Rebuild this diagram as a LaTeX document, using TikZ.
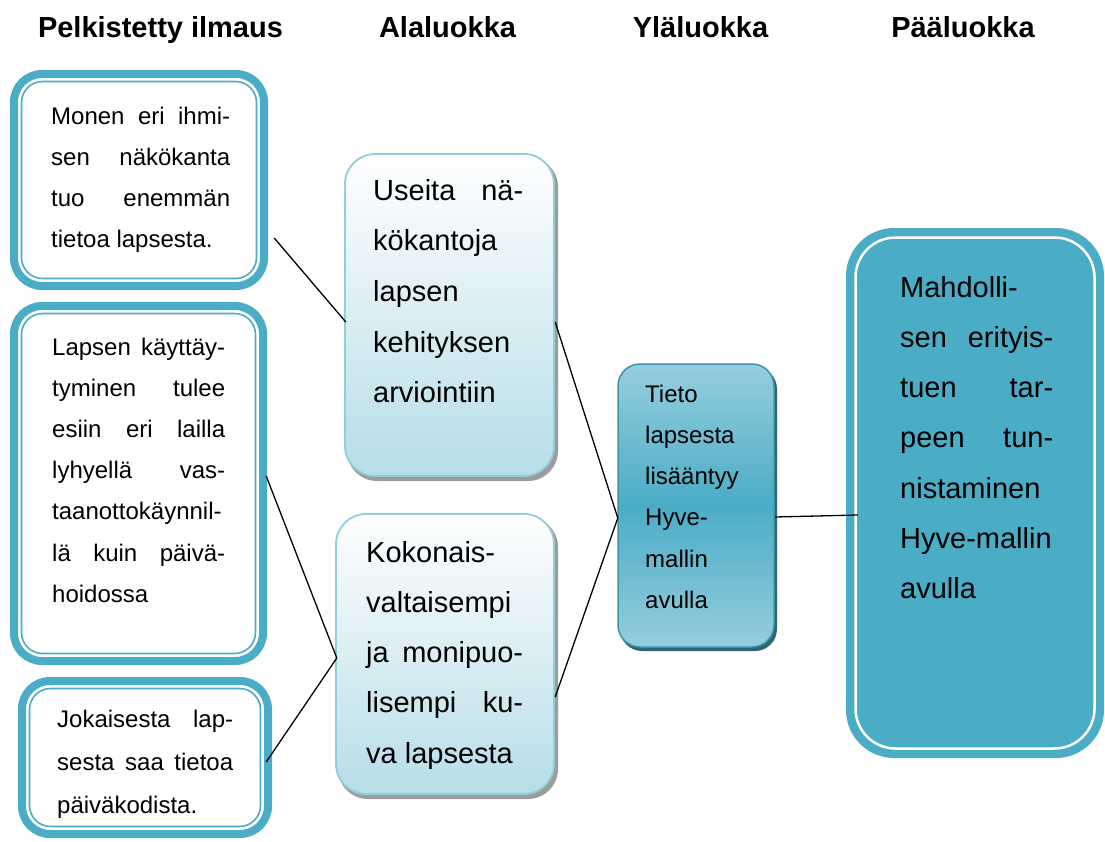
\documentclass[tikz,border=0pt]{standalone}
\usepackage{fontspec}
\setmainfont{Liberation Sans}
\definecolor{teal5}{HTML}{4BACC6}
\definecolor{lblue}{HTML}{B6DDE8}
\definecolor{lborder}{HTML}{92CDDC}
\definecolor{ylatop}{HTML}{96CEDE}
\definecolor{shadowA}{HTML}{9C9C9C}
\definecolor{shadowB}{HTML}{2E6476}
\newcommand\jus[1]{\makebox[\linewidth][s]{#1}}
\newcommand\leftbox[5]{%
  \node[inner sep=0pt, minimum width={#4-#2}, minimum height={#5-#3}] (#1) at ({(#2+#4)/2},{(#3+#5)/2}) {};
  \draw[teal5, line width=8pt, fill=white, rounded corners=28pt] ({#2+4},{#3+4}) rectangle ({#4-4},{#5-4});
  \draw[teal5, line width=1.6pt, rounded corners=21pt] ({#2+11.5},{#3+11.5}) rectangle ({#4-11.5},{#5-11.5});
}
\newcommand\midbox[5]{%
  \node[inner sep=0pt, minimum width={#4-#2}, minimum height={#5-#3}] (#1) at ({(#2+#4)/2},{(#3+#5)/2}) {};
  \fill[shadowA, rounded corners=30pt] ({#2+3},{#3+4}) rectangle ({#4+3},{#5+4});
  \shadedraw[top color=white, bottom color=lblue, draw=lborder, line width=1.8pt, rounded corners=30pt] ({#2+1},{#3+1}) rectangle ({#4-1},{#5-1});
}
\tikzset{
  conn/.style={draw=black, line width=1.3pt},
  head/.style={font=\bfseries\fontsize{29}{34}\selectfont, anchor=base, inner sep=0pt},
  txt/.style={anchor=base west, inner sep=0pt, align=left}
}
\begin{document}
\begin{tikzpicture}[x=1pt, y=-1pt]
\useasboundingbox (0,0) rectangle (1105,841);
% headers
\node[head] (h1) at (160.5,37.5) {Pelkistetty ilmaus};
\node[head] (h2) at (447.5,37.5) {Alaluokka};
\node[head] (h3) at (700.5,37.5) {Yläluokka};
\node[head] (h4) at (963,37.5) {Pääluokka};
% left boxes
\leftbox{p1}{10}{70}{268}{290}
\leftbox{p2}{10}{302}{267}{665}
\leftbox{p3}{18}{677}{272}{838}
% middle boxes
\midbox{a1}{344}{153}{555}{477}
\midbox{a2}{335}{513}{555}{795}
% upper class box
\node[inner sep=0pt, minimum width=157pt, minimum height=284pt] (y1) at (695.5,505) {};
\fill[shadowB, rounded corners=22pt] (620,367) rectangle (777,651);
\shadedraw[top color=ylatop, bottom color=ylatop, middle color=teal5, draw=teal5!85!black, line width=1.5pt, rounded corners=22pt] (618,364) rectangle (774,647);
% main class box
\node[inner sep=0pt, minimum width=258pt, minimum height=530pt] (r1) at (975,493) {};
\fill[teal5, rounded corners=48pt] (846,228) rectangle (1104,758);
\draw[white, line width=2.5pt, rounded corners=40pt] (855.5,237.5) rectangle (1094.5,748.5);
% texts
\node[txt] (t1) at (51,124) {\parbox[t]{179pt}{\fontsize{24}{41}\selectfont
\jus{Monen eri ihmi-}\\ \jus{sen näkökanta}\\ \jus{tuo enemmän}\\ tietoa lapsesta.}};
\node[txt] (t2) at (52,355) {\parbox[t]{173pt}{\fontsize{24}{41.2}\selectfont
\jus{Lapsen käyttäy-}\\ \jus{tyminen tulee}\\ \jus{esiin eri lailla}\\ \jus{lyhyellä vas-}\\ taanottokäynnil-\\ \jus{lä kuin päivä-}\\ hoidossa}};
\node[txt] (t3) at (57,727) {\parbox[t]{176pt}{\fontsize{24}{43}\selectfont
\jus{Jokaisesta lap-}\\ \jus{sesta saa tietoa}\\ päiväkodista.}};
\node[txt] (t4) at (373,200) {\parbox[t]{150pt}{\fontsize{29}{50.7}\selectfont
\jus{Useita nä-}\\ kökantoja\\ lapsen\\ kehityksen\\ arviointiin}};
\node[txt] (t5) at (366,562) {\parbox[t]{157pt}{\fontsize{29}{50.3}\selectfont
Kokonais-\\ valtaisempi\\ \jus{ja monipuo-}\\ \jus{lisempi ku-}\\ va lapsesta}};
\node[txt] (t6) at (645,402) {\parbox[t]{120pt}{\fontsize{24}{41.3}\selectfont
Tieto\\ lapsesta\\ lisääntyy\\ Hyve-\\ mallin\\ avulla}};
\node[txt] (t7) at (900,297) {\parbox[t]{153pt}{\fontsize{29}{50.3}\selectfont
Mahdolli-\\ \jus{sen erityis-}\\ \jus{tuen tar-}\\ \jus{peen tun-}\\ nistaminen\\ Hyve-mallin\\ avulla}};
% connectors
\draw[conn] ([shift={(6,58)}]p1.east) -- ([shift={(2,7)}]a1.west);
\draw[conn] ([shift={(-1,-7.5)}]p2.east) -- ([shift={(2,4)}]a2.west);
\draw[conn] ([shift={(-6,4.5)}]p3.east) -- ([shift={(2,4)}]a2.west);
\draw[conn] ([shift={(0,7)}]a1.east) -- ([shift={(1,13)}]y1.west);
\draw[conn] ([shift={(0,43)}]a2.east) -- ([shift={(1,13)}]y1.west);
\draw[conn] ([shift={(1,12)}]y1.east) -- ([shift={(12,22)}]r1.west);
\end{tikzpicture}
\end{document}
